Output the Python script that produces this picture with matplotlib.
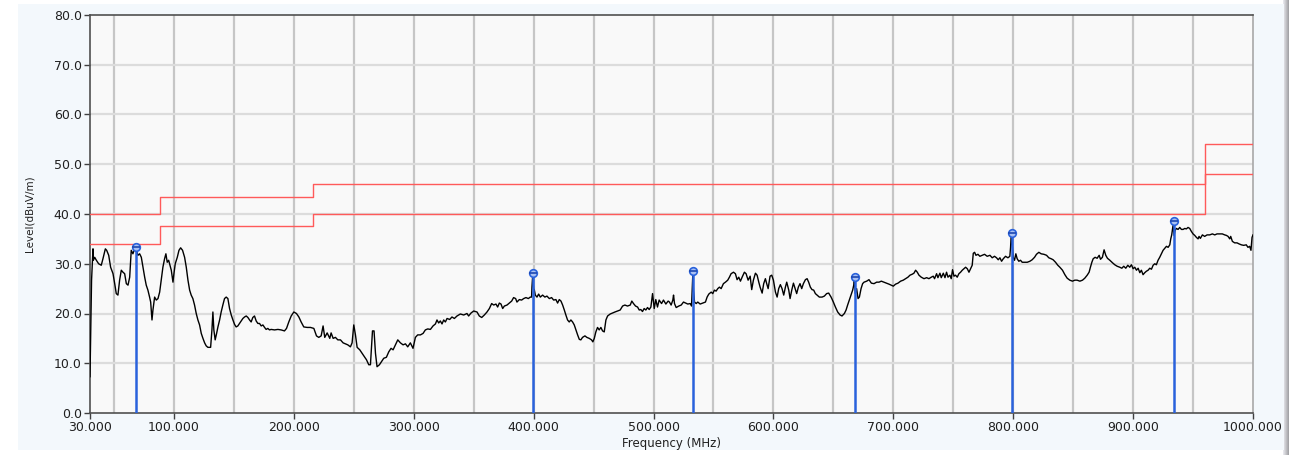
import matplotlib
matplotlib.use('Agg')
import matplotlib.pyplot as plt
import numpy as np
from matplotlib.patches import Rectangle

# ---------------- data ----------------
trace_freq_mhz = [
    30.0, 30.4, 31.3, 32.5, 32.8, 33.9, 35.3, 37.2, 39.4, 40.8, 42.8, 43.9, 45.6, 47.2, 49.2,
    50.6, 51.9, 53.3, 54.7, 56.1, 57.5, 58.9, 60.3, 61.7, 63.1, 64.4, 65.8, 67.2, 68.6, 70.0,
    71.4, 72.8, 74.2, 75.6, 76.9, 78.3, 79.7, 80.6, 81.7, 82.5, 83.9, 85.3, 86.7, 88.1, 89.4,
    90.8, 92.2, 93.3, 94.4, 95.6, 96.7, 97.8, 99.2, 100.0, 101.1, 102.8, 104.2, 105.6, 107.2,
    108.9, 110.3, 111.7, 113.1, 114.4, 115.8, 117.2, 118.6, 120.0, 121.4, 122.8, 124.2, 125.6,
    126.9, 128.3, 130.6, 131.7, 132.5, 133.3, 134.4, 135.6, 136.7, 138.1, 139.4, 140.8, 142.2,
    143.6, 145.0, 146.4, 147.8, 149.2, 150.6, 151.9, 153.3, 154.7, 156.1, 157.5, 158.9, 160.3,
    161.7, 163.1, 164.4, 165.8, 167.2, 168.6, 170.0, 171.4, 172.8, 174.2, 175.6, 176.9, 178.3,
    179.7, 181.1, 183.9, 186.7, 189.4, 192.2,
    193.9, 195.8, 197.8, 200.0, 202.2, 204.2, 206.1, 208.3, 211.1, 213.9, 216.7, 218.9, 220.8,
    222.8, 224.4, 225.8, 227.8, 230.0, 231.1, 232.8, 234.7, 236.7, 238.9, 241.1, 243.1, 245.0,
    247.2, 248.6, 250.0, 251.4, 252.8, 255.0, 256.9, 258.9, 260.6, 262.5, 263.9, 265.6, 266.9,
    268.1, 269.4, 271.4, 273.1, 275.0, 277.2, 279.2, 281.1, 282.8, 284.7, 286.7, 288.9, 291.1,
    293.1, 295.0, 297.2, 299.4, 301.4, 303.3, 305.6, 307.8, 309.7, 311.7, 313.9, 316.1, 318.1,
    319.4, 320.8, 322.2, 323.6, 325.0, 326.4, 327.8, 330.0, 331.9, 333.9, 336.1, 338.9, 341.7,
    344.4, 345.8, 347.8, 350.0,
    352.8, 354.7, 356.7, 358.9, 361.1, 363.1, 365.0, 366.7, 368.6, 370.0, 371.4, 372.8, 374.2,
    375.6, 377.8, 379.7, 381.7, 383.3, 385.0, 386.1, 388.1, 390.0, 391.7, 393.6, 395.6, 397.2,
    398.3, 398.6, 399.2, 400.0, 400.6, 401.4, 402.8, 404.2, 405.6, 407.5, 409.4, 411.1, 413.1,
    415.0, 416.7, 418.6, 420.0, 421.4, 422.8, 424.2, 425.6, 426.9, 428.3, 429.7, 431.1, 432.5,
    433.9, 435.3, 436.7, 438.1, 439.4, 440.8, 442.8, 444.4, 446.4, 448.3, 449.4, 450.6, 451.9,
    453.3, 454.7, 456.1, 457.5, 458.9, 460.3, 461.7, 463.9, 465.8, 467.8, 470.0, 472.2, 474.2,
    476.1, 478.3, 480.6, 481.9, 483.3, 485.0, 486.7, 488.1, 489.4, 490.8, 492.2, 493.6, 495.0,
    496.4, 497.8, 499.2, 500.6, 501.9, 503.3, 504.7, 506.7, 508.3, 510.3, 512.2,
    513.3, 514.7, 516.1, 516.7, 517.5, 518.9, 521.1, 523.1, 525.0, 526.7, 528.6, 530.6, 531.7,
    532.2, 532.8, 533.3, 534.2, 535.6, 536.9, 538.9, 541.1, 543.3, 544.7, 546.1, 548.1, 549.4,
    550.8, 552.2, 553.6, 555.0, 556.4, 558.3, 560.0, 561.9, 563.3, 564.7, 566.7, 568.3, 569.7,
    571.1, 572.5, 573.9, 575.8, 577.2, 578.9, 580.6, 581.9, 583.3, 585.0, 586.4, 587.8, 588.9,
    590.6, 591.9, 593.3, 594.4, 595.6, 597.2, 598.6, 600.0, 601.7, 603.1, 604.4, 605.8, 607.2,
    608.6, 610.0, 611.1, 612.8, 613.9, 615.3, 616.7, 618.1, 619.4, 620.8, 622.2, 623.6, 625.0,
    626.7, 628.1, 629.4, 630.8, 632.2, 633.6, 635.0, 636.4, 638.3, 640.6, 642.5, 644.4, 646.1,
    648.1, 650.0, 651.7, 653.6, 655.6, 657.2, 659.2, 660.6, 661.9, 663.3, 664.7, 666.1, 667.0,
    667.5, 668.3, 669.4, 670.6, 671.7, 673.1, 674.4,
    675.6, 677.8, 679.7, 681.7, 683.9, 686.1, 688.1, 690.0, 692.2, 694.4, 696.4, 698.3, 700.0,
    701.9, 703.9, 706.1, 708.3, 710.3, 712.2, 713.9, 715.8, 717.2, 718.6, 720.0, 721.4, 723.3,
    725.6, 727.8, 729.7, 731.7, 733.3, 734.4, 736.1, 737.2, 738.9, 740.0, 741.7, 743.1, 744.4,
    745.6, 747.2, 748.3, 749.4, 750.6, 751.9, 753.3, 754.7, 756.1, 757.5, 758.9, 760.3, 761.7,
    763.1, 764.4, 765.8, 766.7, 767.8, 768.9, 770.6, 772.2, 774.2, 776.1, 778.3, 780.6, 782.5,
    784.4, 786.1, 787.5, 788.9, 790.3, 791.7, 793.6, 795.6, 797.2, 797.8, 798.3, 799.2, 800.0,
    801.1, 802.2, 803.3, 804.7, 806.1, 807.5, 809.4, 811.7, 813.9, 815.8, 817.8, 819.4, 821.4,
    823.3, 825.6, 827.8, 829.7, 831.7, 833.3, 835.3, 837.2,
    838.9, 841.1, 843.1, 845.0, 847.2, 849.4, 851.4, 853.3, 855.6, 857.8, 859.7, 861.7, 863.3,
    864.4, 865.6, 866.7, 868.3, 870.0, 871.7, 872.8, 874.4, 875.8, 877.2, 878.6, 880.6, 882.8,
    884.7, 886.7, 888.9, 890.6, 892.2, 893.9, 895.6, 897.2, 898.6, 900.0, 901.4, 902.8, 904.2,
    905.6, 906.9, 908.3, 909.7, 911.1, 912.5, 913.9, 915.3, 916.7, 918.1, 919.4, 920.8, 922.2,
    923.6, 925.0, 926.4, 927.8, 929.2, 930.6, 931.4, 932.2, 933.3, 934.2, 935.0, 936.1, 937.5,
    938.9, 940.3, 941.7, 943.1, 944.4, 945.8, 947.2, 948.6, 950.0, 951.4, 952.8, 954.2, 955.0,
    956.1, 957.8, 959.7, 961.7, 963.9, 966.1, 968.1, 970.0, 972.2, 974.4, 976.4, 977.8, 979.2,
    980.6, 981.4, 982.8, 984.7, 986.7, 988.3, 990.3, 992.2, 994.4, 995.8, 997.2, 998.3, 999.2,
    1000.0,
]
trace_level_dbuv = [
    7.3, 13.5, 26.7, 33.0, 30.7, 31.3, 30.7, 30.0, 29.7, 31.0, 33.0, 32.7, 31.7, 29.3, 28.0,
    26.0, 24.0, 23.7, 26.7, 28.7, 28.3, 28.0, 26.0, 25.7, 27.3, 32.7, 32.0, 33.0, 32.7, 31.7,
    32.0, 31.3, 29.3, 27.3, 25.7, 24.7, 23.3, 22.3, 18.7, 20.7, 23.3, 22.7, 23.0, 24.3, 26.7,
    29.3, 31.0, 32.0, 30.3, 30.7, 29.7, 28.7, 26.3, 28.0, 30.0, 31.3, 32.7, 33.2, 32.7,
    31.3, 29.3, 26.7, 24.7, 23.7, 23.0, 21.7, 20.0, 18.7, 17.7, 16.0, 15.0, 14.1,
    13.5, 13.2, 13.2, 16.7, 20.3, 16.7, 14.7, 16.0, 17.3, 18.7, 20.3, 21.7, 23.0,
    23.3, 23.0, 21.0, 19.7, 18.7, 17.8, 17.3, 17.5, 18.0, 18.5, 19.0, 19.3, 19.5,
    19.2, 18.7, 18.3, 19.2, 19.5, 18.5, 18.0, 18.0, 17.5, 17.7, 17.2, 16.8, 17.0,
    16.7, 16.8, 16.7, 16.8, 16.7, 16.5,
    17.0, 18.3, 19.5, 20.3, 20.0, 19.3, 18.3, 17.3, 17.2, 17.2, 17.0, 15.5, 15.2,
    15.5, 17.5, 15.2, 16.1, 15.0, 16.1, 15.0, 15.2, 14.7, 14.7, 14.1, 13.9, 13.7,
    13.3, 14.1, 17.7, 15.7, 13.2, 12.7, 12.0, 11.3, 10.7, 9.7, 9.7, 16.5, 16.5,
    12.0, 9.3, 9.7, 10.3, 11.0, 11.2, 12.3, 13.0, 12.7, 13.7, 14.7, 14.1, 13.7,
    13.9, 13.3, 14.1, 13.0, 15.2, 15.7, 15.7, 16.0, 16.7, 16.9, 16.8, 17.5, 17.9,
    18.7, 18.1, 18.5, 17.9, 18.7, 18.3, 19.0, 18.8, 19.3, 19.0, 19.5, 19.9, 19.7,
    20.0, 19.5, 20.1, 20.5,
    20.3, 19.5, 19.2, 19.7, 20.3, 21.0, 22.0, 21.7, 21.9, 21.3, 22.1, 21.9, 21.0,
    21.5, 21.7, 22.1, 22.5, 23.2, 23.0, 22.3, 22.8, 22.7, 23.0, 23.2, 23.0, 23.3,
    23.3, 25.3, 27.5, 25.0, 24.7, 23.7, 23.3, 23.9, 23.3, 23.7, 23.3, 23.5, 23.0,
    23.2, 22.7, 22.8, 22.1, 22.8, 22.5, 21.7, 20.7, 19.7, 18.7, 18.3, 18.7, 18.3,
    17.7, 16.7, 15.7, 14.8, 14.7, 15.2, 15.5, 15.2, 15.0, 14.7, 14.3, 15.0, 16.3,
    17.2, 16.7, 17.2, 16.5, 16.3, 18.7, 19.5, 19.9, 20.1, 20.3, 20.5, 20.7, 21.5,
    21.7, 21.5, 21.7, 22.5, 22.0, 21.5, 21.3, 20.7, 20.8, 20.4, 21.0, 20.7, 21.2,
    20.8, 21.3, 24.0, 21.0, 22.8, 21.3, 22.7, 22.0, 22.7, 21.9, 22.5,
    22.3, 21.7, 22.7, 23.7, 22.0, 21.2, 21.5, 21.7, 22.3, 22.1, 21.9, 22.0, 21.5,
    24.7, 28.0, 24.7, 22.3, 22.0, 22.3, 21.9, 22.1, 22.3, 23.3, 23.9, 24.3, 24.0,
    24.7, 24.5, 25.0, 25.3, 25.0, 26.0, 26.3, 26.7, 27.3, 28.0, 28.3, 28.0, 26.8,
    27.3, 26.5, 27.3, 28.3, 28.0, 26.7, 27.5, 24.8, 26.7, 28.1, 27.7, 26.3, 25.3,
    24.1, 26.0, 27.0, 26.0, 25.0, 27.5, 27.7, 26.7, 24.3, 23.3, 25.0, 25.8, 25.0,
    23.7, 25.3, 26.3, 24.7, 23.0, 24.7, 26.1, 25.0, 24.0, 25.3, 26.0, 25.0, 26.0,
    26.8, 27.0, 26.3, 25.3, 24.8, 24.7, 24.0, 23.7, 23.3, 23.3, 23.5, 24.0, 24.1,
    23.3, 22.3, 21.3, 20.3, 19.7, 19.5, 20.0, 20.7, 21.7, 22.7, 23.7, 24.7, 25.7,
    27.3, 24.0, 25.0, 23.0, 23.3, 25.0, 26.0,
    26.3, 26.5, 26.8, 26.1, 26.0, 26.3, 26.3, 26.5, 26.3, 26.1, 25.9, 25.7, 25.5,
    25.9, 26.1, 26.5, 26.7, 27.0, 27.3, 27.7, 27.9, 28.1, 28.7, 28.3, 27.7, 27.3,
    27.0, 27.2, 27.0, 27.3, 27.5, 27.0, 28.0, 27.2, 28.1, 27.2, 28.1, 27.2, 28.3,
    27.3, 27.7, 27.0, 28.8, 27.5, 27.7, 27.3, 28.0, 28.3, 28.7, 29.0, 29.3, 29.0,
    28.3, 29.0, 29.7, 32.1, 32.3, 31.7, 31.9, 31.5, 31.7, 31.9, 31.5, 31.7, 31.2,
    31.5, 31.2, 30.8, 31.2, 30.5, 31.0, 31.5, 31.2, 31.5, 33.3, 35.7, 33.7, 31.3,
    30.7, 32.0, 31.0, 30.5, 30.7, 30.3, 30.3, 30.3, 30.5, 30.8, 31.3, 31.9, 32.3,
    32.0, 31.9, 31.7, 31.2, 31.0, 30.8, 30.3, 29.7,
    29.3, 28.7, 27.8, 27.1, 26.7, 26.5, 26.7, 26.7, 26.5, 26.7, 27.1, 27.7, 28.3,
    29.3, 30.3, 31.0, 31.3, 31.1, 31.7, 30.9, 31.3, 32.8, 31.7, 31.1, 30.7, 30.2,
    29.8, 29.5, 29.3, 29.1, 29.5, 29.1, 29.7, 29.3, 29.8, 29.0, 29.3, 28.7, 29.1,
    28.2, 28.7, 27.8, 28.2, 28.5, 28.7, 29.1, 28.9, 29.7, 30.0, 29.8, 30.7, 31.3,
    32.0, 32.7, 33.1, 33.5, 33.3, 33.8, 35.0, 35.8, 37.7, 35.7, 36.7, 37.1, 36.9,
    37.3, 36.9, 36.9, 37.1, 37.0, 37.3, 37.1, 36.5, 36.0, 35.7, 35.3, 35.0, 35.5,
    35.1, 35.8, 35.5, 35.8, 35.8, 36.0, 35.8, 36.0, 36.0, 36.0, 35.8, 35.7, 35.5,
    35.0, 35.5, 34.5, 34.2, 34.2, 34.0, 33.8, 33.7, 33.8, 33.3, 33.5, 32.7, 35.3,
    35.8,
]

limit_edges_mhz = [30, 88, 216, 960, 1000]
limit_qp_dbuv = [40, 43.5, 46, 54]
limit_margin_dbuv = [34, 37.5, 40, 48]

peak_freq_mhz = [68.4, 399.2, 533.2, 668.3, 799.2, 934.1]
peak_level_dbuv = [33.3, 28.1, 28.6, 27.4, 36.1, 38.5]

x_ticks = [30, 100, 200, 300, 400, 500, 600, 700, 800, 900, 1000]
x_grid = [50, 100, 150, 200, 250, 300, 350, 400, 450, 500, 550, 600, 650, 700, 750, 800, 850, 900, 950]
y_ticks = [0, 10, 20, 30, 40, 50, 60, 70, 80]

# ---------------- figure ----------------
W, H = 1289, 455
fig = plt.figure(figsize=(W / 100, H / 100), dpi=100)
fig.patch.set_facecolor('white')

# light panel background behind the chart
bgax = fig.add_axes([0, 0, 1, 1], zorder=-10)
bgax.set_xlim(0, W)
bgax.set_ylim(H, 0)
bgax.axis('off')
bgax.add_patch(Rectangle((18, 4), 1284 - 18, 450 - 4, facecolor='#f3f8fc', edgecolor='none'))
grad = np.linspace(0.93, 0.62, 50).reshape(1, -1)
bgax.imshow(np.dstack([grad, grad, np.clip(grad * 1.02, 0, 1)]), aspect='auto',
            extent=[1283, 1289, H, 0])
bgax.set_xlim(0, W)
bgax.set_ylim(H, 0)

ax = fig.add_axes([90 / W, 1 - 413 / H, (1253 - 90) / W, (413 - 15) / H], zorder=1)
ax.set_facecolor('#f9f9f9')
ax.set_xlim(30, 1000)
ax.set_ylim(0, 80)

for g in x_grid:
    ax.axvline(g, color='#c6c6c6', lw=1.6, zorder=1)
for g in y_ticks[1:-1]:
    ax.axhline(g, color='#dcdcdc', lw=1.6, zorder=1)

# limit lines
qp = limit_qp_dbuv + [limit_qp_dbuv[-1]]
mg = limit_margin_dbuv + [limit_margin_dbuv[-1]]
ax.step(limit_edges_mhz, qp, where='post', color='#ff5a5a', lw=1.0, zorder=3)
ax.step(limit_edges_mhz, mg, where='post', color='#ff5a5a', lw=1.0, zorder=3)

# trace
ax.plot(trace_freq_mhz, trace_level_dbuv, color='black', lw=1.0, zorder=4)

# peak markers
for f, lv in zip(peak_freq_mhz, peak_level_dbuv):
    ax.vlines(f, 0, lv, color='#2a62dc', lw=1.8, zorder=5)
    ax.plot(f, lv, marker='o', ms=5.5, mfc='#a9c0f2', mec='#2a62dc', mew=1.2, zorder=6)
    ax.plot(f, lv, marker='_', ms=5.5, mec='#1d47b0', mew=1.2, zorder=7)

ax.set_xticks(x_ticks)
ax.set_xticklabels(['%.3f' % t for t in x_ticks])
ax.set_yticks(y_ticks)
ax.set_yticklabels(['%.1f' % t for t in y_ticks])
ax.tick_params(axis='both', direction='out', length=4, width=1, color='#404040',
               labelsize=9, labelcolor='#202020', pad=2)

for side in ['left', 'bottom', 'top']:
    ax.spines[side].set_color('#505050')
    ax.spines[side].set_linewidth(1.2)
ax.spines['right'].set_color('#a8a8a8')
ax.spines['right'].set_linewidth(1.2)

ax.set_xlabel('Frequency (MHz)', fontsize=8.5, color='#202020', labelpad=2)
ax.set_ylabel('Level(dBuV/m)', fontsize=7.5, color='#202020', labelpad=14)

fig.savefig('out.png', dpi=100, facecolor=fig.get_facecolor())
